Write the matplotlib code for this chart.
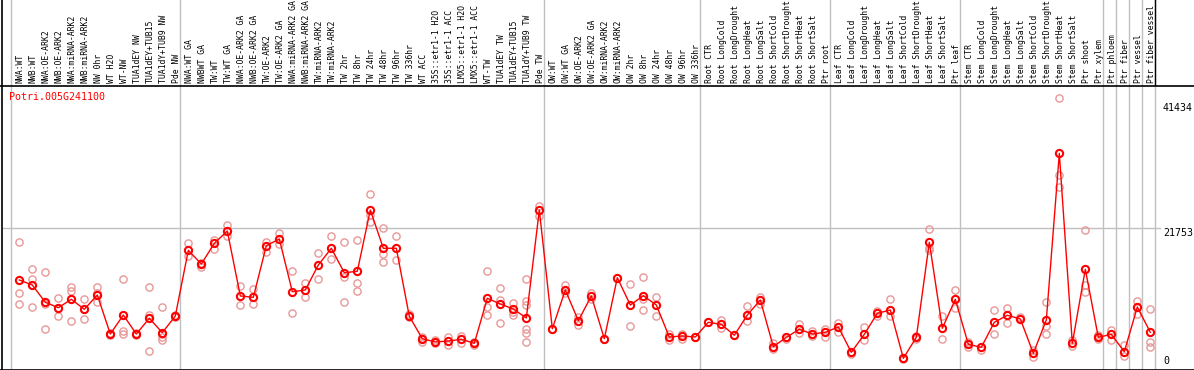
import matplotlib
matplotlib.use("Agg")
import matplotlib.pyplot as plt
from matplotlib.lines import Line2D
import matplotlib.transforms as mtrans

gene = "Potri.005G241100"

labels = [
    "NWA:WT", "NWB:WT", "NWA:OE-ARK2", "NWB:OE-ARK2", "NWA:miRNA-ARK2", "NWB:miRNA-ARK2",
    "NW 0hr", "WT H2O", "WT-NW", "TUA1dEY NW", "TUA1dEY+TUB15", "TUA1dY+TUB9 NW", "Pde NW",
    "NWA:WT GA", "NWBWT GA", "TW:WT", "TW:WT GA", "NWA:OE-ARK2 GA", "NWB:OE-ARK2 GA",
    "TW:OE-ARK2", "TW:OE-ARK2 GA", "NWA:miRNA-ARK2 GA", "NWB:miRNA-ARK2 GA", "TW:miRNA-ARK2",
    "TW:miRNA-ARK2", "TW 2hr", "TW 8hr", "TW 24hr", "TW 48hr", "TW 96hr", "TW 336hr", "WT ACC",
    "35S::etr1-1 H2O", "35S::etr1-1 ACC", "LMX5::etr1-1 H2O", "LMX5::etr1-1 ACC", "WT-TW",
    "TUA1dEY TW", "TUA1dEY+TUB15", "TUA1dY+TUB9 TW", "Pde TW",
    "OW:WT", "OW:WT GA", "OW:OE-ARK2", "OW:OE-ARK2 GA", "OW:miRNA-ARK2", "OW:miRNA-ARK2",
    "OW 2hr", "OW 8hr", "OW 24hr", "OW 48hr", "OW 96hr", "OW 336hr",
    "Root CTR", "Root LongCold", "Root LongDrought", "Root LongHeat", "Root LongSalt",
    "Root ShortCold", "Root ShortDrought", "Root ShortHeat", "Root ShortSalt", "Ptr root",
    "Leaf CTR", "Leaf LongCold", "Leaf LongDrought", "Leaf LongHeat", "Leaf LongSalt",
    "Leaf ShortCold", "Leaf ShortDrought", "Leaf ShortHeat", "Leaf ShortSalt", "Ptr leaf",
    "Stem CTR", "Stem LongCold", "Stem LongDrought", "Stem LongHeat", "Stem LongSalt",
    "Stem ShortCold", "Stem ShortDrought", "Stem ShortHeat", "Stem ShortSalt", "Ptr shoot",
    "Ptr xylem",
    "Ptr phloem", "Ptr fiber", "Ptr vessel", "Ptr fiber vessel",
]

group_sizes = [13, 28, 12, 10, 10, 11, 1, 1, 1, 1]

mean_expr = [
    13660, 12870, 10160, 9310, 10630, 9060, 11300, 5180, 8160, 5180, 7650, 5390, 8010,
    18320, 16170, 19420, 21350, 11150, 10940, 19040, 20100, 11820, 12090, 16010, 18640,
    14800, 15030, 24650, 18640, 18640, 7960, 4440, 3930, 4080, 4350, 3720, 10790, 9890,
    9110, 7690, 24650,
    6010, 12090, 7270, 11150, 4440, 14020, 9730, 11190, 9730, 4710, 4870, 4710,
    7020, 6700, 4980, 8160, 10520, 3190, 4660, 5920, 5180, 5450,
    6280, 2310, 5130, 8430, 8950, 1370, 4660, 19580, 6080, 10630,
    3560, 3090, 7020, 8120, 7540, 2150, 7380, 33550, 3720, 15340, 4660,
    5130, 2400, 9420, 5450,
]

rep_expr = [
    [19580, 11570, 9890], [15390, 13820, 9370], [14870, 9890, 5970], [10790, 9310, 7960],
    [12610, 11980, 7220], [10630, 9060, 7490], [12510, 11570, 10250], [5290, 5020, 5180],
    [13770, 5700, 5180], [5260, 5100, 5180], [12510, 8160, 2510], [9370, 4760, 4240, 5180],
    [8160, 8010, 7850],
    [19420, 17430], [16380, 15750], [19940, 18480], [22290, 20570], [12720, 9730],
    [12200, 9890], [19670, 18100], [20990, 19310], [15070, 8430], [13240, 10940],
    [17850, 13860], [20570, 16910], [19580, 14080, 10210], [19890, 13190, 11930],
    [27110, 23860, 22810], [21780, 17690, 16440], [20570, 16800], [8270, 7800],
    [4760, 3930], [4240, 3720], [4660, 3450], [4910, 3820], [3970, 3450],
    [15070, 9470, 8120], [12360, 10520, 6860], [10100, 8590, 8160],
    [13770, 10410, 9730, 5920, 5290, 3880], [25280, 23710],
    [5970], [12870, 11570], [7800, 6590], [11670, 10630], [4440], [14020],
    [13030, 6480], [14130, 10680, 8950], [10940, 7960], [5180, 4240], [5180, 4350], [4710],
    [7020], [7380, 6080], [4980], [9530, 7270], [10940, 9890], [3720, 2780], [4350],
    [6750, 5390], [5700, 4870], [5920, 4760],
    [6960, 5450], [2040], [6230, 4240], [8840, 8010], [10630, 8010], [1210], [4870, 4350],
    [21620, 18640, 18370], [8010, 4350], [12040, 9310],
    [3970, 3140], [2670], [8950, 5130], [9220, 6860], [7900], [2670, 1620],
    [10160, 6480, 5130], [42190, 30140, 28310], [4240, 3300], [21460, 12870, 11820],
    [5020, 4400],
    [5810, 4240], [3450, 1730], [10360, 8320], [9060, 3970, 3190],
]

ytick_vals = [0, 21753, 41434]

W, H = 1194, 370
fig = plt.figure(figsize=(W / 100, H / 100), dpi=100)
fig.patch.set_facecolor("white")

# axes region in pixels
ax_left, ax_right = 11, 1155
ax_top, ax_bot = 85, 369
ax = fig.add_axes([ax_left / W, (H - ax_bot) / H, (ax_right - ax_left) / W, (ax_bot - ax_top) / H])
ax.set_axis_off()
n = len(labels)
off = 0.64
ax.set_xlim(-off, n - off)
px_per_val = 157.0
ax.set_ylim(-2 * px_per_val, (367 - ax_top) * px_per_val)

grid_c = "#c0c0c0"
above = 1 + ax_top / (ax_bot - ax_top)
btrans = mtrans.blended_transform_factory(ax.transData, ax.transAxes)
ytrans = mtrans.blended_transform_factory(ax.transAxes, ax.transData)

# group boundaries
bounds = [0]
for g in group_sizes:
    bounds.append(bounds[-1] + g)
for k in bounds:
    ax.plot([k - off, k - off], [0, above], color=grid_c, lw=1, transform=btrans, clip_on=False, zorder=1)
# black right header line
ax.plot([n - off, n - off], [1, above], color="black", lw=1, transform=btrans, clip_on=False, zorder=2)

# horizontal grid at middle tick
ax.plot([-0.0083, 1.0044], [ytick_vals[1]] * 2, color=grid_c, lw=1, transform=ytrans, clip_on=False, zorder=1)

# frame lines
fig.add_artist(Line2D([1.5 / W, 1.5 / W], [0, 1], color="black", lw=1.2))
fig.add_artist(Line2D([0, 1], [(H - 85.5) / H] * 2, color="black", lw=1.2))
fig.add_artist(Line2D([0, 1], [(H - 369.5) / H] * 2, color="black", lw=1.2))

# header labels
for i, lab in enumerate(labels):
    ax.text(i + 0.08, 1 + 2.0 / (ax_bot - ax_top), lab, rotation=90, ha="center", va="bottom",
            family="DejaVu Sans Mono", fontsize=5.85, color="black", transform=btrans, clip_on=False)

# replicates
rep_c = "#e89898"
for i, reps in enumerate(rep_expr):
    ax.plot([i] * len(reps), reps, linestyle="none", marker="o", ms=5.2, mfc="none",
            mec=rep_c, mew=1.0, zorder=3, clip_on=False)

# mean line
ax.plot(range(n), mean_expr, color="#ff0000", lw=1.0, marker="o", ms=5.2, mfc="none",
        mec="#ff0000", mew=1.5, zorder=4, clip_on=False)

# y labels at right
for v in ytick_vals:
    va = "bottom" if v == 0 else "top"
    yy = v + (1.3 * px_per_val if v == 0 else 0)
    ax.text(1.007, yy, str(v), transform=ytrans, ha="left", va=va,
            family="DejaVu Sans Mono", fontsize=7.2, color="black", clip_on=False)

fig.text(9.3 / W, 1 - 92.0 / H, gene, color="#ff0000", family="DejaVu Sans Mono",
         fontsize=7.2, ha="left", va="top")

fig.savefig("out.png", dpi=100)
